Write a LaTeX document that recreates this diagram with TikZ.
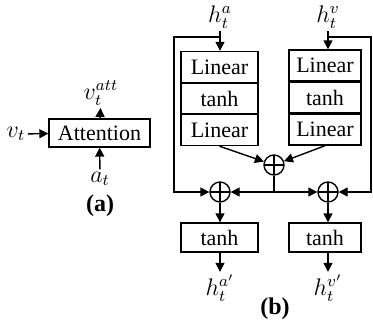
\documentclass[tikz,border=0pt]{standalone}
\usepackage{fontspec}
\setmainfont{Liberation Serif}
\usetikzlibrary{positioning,calc,arrows.meta}

\begin{document}
\begin{tikzpicture}[
    x=0.5pt, y=-0.5pt, line width=0.7pt,
    >={Triangle[length=4.5pt,width=4.5pt]},
    font=\fontsize{11}{13}\selectfont,
    blocknode/.style={rectangle, draw, minimum width=38.5pt, minimum height=15.5pt, inner sep=0pt},
    labelnode/.style={inner sep=1pt, font=\fontsize{12}{14}\selectfont},
    plusnode/.style={circle, draw, minimum size=10pt, inner sep=0pt,
        path picture={\draw (path picture bounding box.north) -- (path picture bounding box.south)
                            (path picture bounding box.west) -- (path picture bounding box.east);}}
]
    \useasboundingbox (0,0) rectangle (373,321);

    % (a) Attention
    \node[blocknode, minimum width=50.5pt, minimum height=14pt] (att) at (99.5,133) {Attention};
    \node[labelnode] (vt) at (16,134) {$v_t$};
    \node[labelnode] (vatt) at (101,93) {$v_t^{att}$};
    \node[labelnode] (at) at (100,179) {$a_t$};
    \node[labelnode] (alabel) at (100,206) {\textbf{(a)}};
    \draw[->] (vt) -- (att);
    \draw[->] (att) -- (vatt);
    \draw[->] (at) -- (att);

    % (b) inputs
    \node[labelnode] (ha) at (220,17) {$h_t^{a}$};
    \node[labelnode] (hv) at (328,17) {$h_t^{v}$};

    % (b) left stack
    \node[blocknode] (la1) at (219.5,67) {Linear};
    \node[blocknode] (la2) at (219.5,98.5) {tanh};
    \node[blocknode] (la3) at (219.5,130) {Linear};

    % (b) right stack
    \node[blocknode, minimum width=36pt] (lv1) at (325,65.5) {Linear};
    \node[blocknode, minimum width=36pt] (lv2) at (325,97.5) {tanh};
    \node[blocknode, minimum width=36pt] (lv3) at (325,129.5) {Linear};

    % sums
    \node[plusnode] (sm) at (274,165) {};
    \node[plusnode] (sa) at (220,192) {};
    \node[plusnode] (sv) at (328,192) {};

    % outputs
    \node[blocknode, minimum height=14.5pt] (ta) at (219.5,237.5) {tanh};
    \node[blocknode, minimum width=36pt, minimum height=14.5pt] (tv) at (325,237.5) {tanh};
    \node[labelnode] (hao) at (220,288) {$h_t^{a'}$};
    \node[labelnode] (hvo) at (328,288) {$h_t^{v'}$};
    \node[labelnode] (blabel) at (275,309) {\textbf{(b)}};

    \coordinate (ja) at (220,37);
    \coordinate (jv) at (328,37);
    \coordinate (fa) at (174,37);
    \coordinate (fv) at (371,37);
    \coordinate (jm) at (274,192);

    \draw[->] (ha) -- (la1.north -| ha);
    \draw[->] (hv) -- (lv1.north -| hv);
    \draw[->] (ja) -- (fa) |- (sa);
    \draw[->] (jv) -- (fv) |- (sv);
    \draw[->] (la3.south) -- (sm);
    \draw[->] (lv3.south) -- (sm);
    \draw (sm) -- (jm);
    \draw[->] (jm) -- (sa);
    \draw[->] (jm) -- (sv);
    \draw[->] (sa) -- (ta.north -| sa);
    \draw[->] (sv) -- (tv.north -| sv);
    \draw[->] (ta.south -| hao) -- (hao);
    \draw[->] (tv.south -| hvo) -- (hvo);
\end{tikzpicture}
\end{document}
